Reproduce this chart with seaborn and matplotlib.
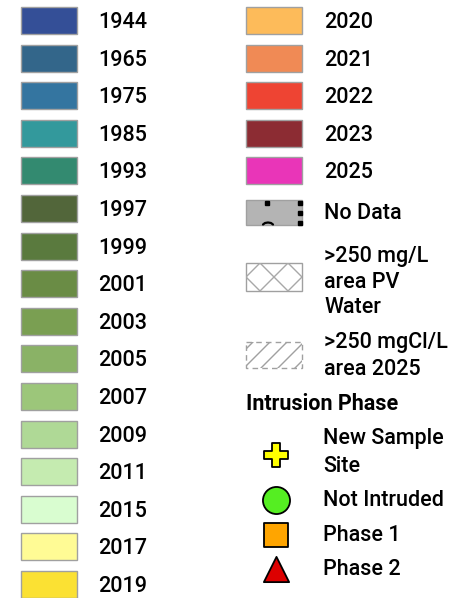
##### Libraries #####
import matplotlib
matplotlib.use('Agg')
import seaborn as sns
from matplotlib import pyplot as plt
from matplotlib.patches import Rectangle

##### Legend data #####
left_years = ['1944', '1965', '1975', '1985', '1993', '1997', '1999', '2001',
              '2003', '2005', '2007', '2009', '2011', '2015', '2017', '2019']
left_colors = ['#344f97', '#33668a', '#3475a0', '#33999c', '#338a70', '#52663a',
               '#5a7a3e', '#6a8c45', '#7a9f52', '#8ab266', '#9cc67a', '#afd996',
               '#c5ebb0', '#d9fdd0', '#fffb95', '#fbe133']
right_years = ['2020', '2021', '2022', '2023', '2025']
right_colors = ['#fdbb5a', '#f08a55', '#ee4433', '#8c2c33', '#e935b8']
nodata_label = 'No Data'
pv_label = ['>250 mg/L', 'area PV', 'Water']
cl_label = ['>250 mgCl/L', 'area 2025']
phase_title = 'Intrusion Phase'
phase_labels = [['New Sample', 'Site'], ['Not Intruded'], ['Phase 1'], ['Phase 2']]
phase_markers = ['P', 'o', 's', '^']
phase_colors = ['#ffff00', '#55ee22', '#ffa500', '#dd0000']

##### Figure #####
sns.set_theme(style='white')
plt.rcParams['font.family'] = ['Roboto', 'DejaVu Sans']
plt.rcParams['text.color'] = 'black'

fig = plt.figure(figsize=(4.74, 5.98), dpi=100)
ax = fig.add_axes([0, 0, 1, 1])
ax.set_xlim(0, 474)
ax.set_ylim(598, 0)
ax.axis('off')

fs = 15.5
fw = 'medium'
step = 37.6
sw_w, sw_h = 56, 27
edge = '#a0a0a0'

# year swatches
def draw_column(years, colors, x_sw, x_txt, y0):
    for i, (yr, col) in enumerate(zip(years, colors)):
        yc = y0 + i * step
        ax.add_patch(Rectangle((x_sw, yc - sw_h / 2), sw_w, sw_h,
                               facecolor=col, edgecolor=edge, lw=1))
        ax.text(x_txt, yc + 7.5, yr, fontsize=fs, fontweight=fw, va='baseline')

draw_column(left_years, left_colors, 21, 98, 20.5)
draw_column(right_years, right_colors, 246, 324, 20.5)

# no data swatch
yc = 212.5
ax.add_patch(Rectangle((246, yc - 12.5), 56, 25, facecolor='#b4b4b4', edgecolor=edge, lw=1))
ax.plot([267, 300, 300, 300], [203, 203, 213, 223], 's', color='black', ms=2.2)
ax.plot([263, 265, 268, 271, 273], [224.5, 223, 222.5, 223, 224.5], color='black', lw=1.6)
ax.text(324, yc + 6.5, nodata_label, fontsize=fs, fontweight=fw, va='baseline')

# hatch lines clipped to a patch
def hatch_lines(patch, xs, yc, half, slopes, color):
    for x0 in xs:
        for s in slopes:
            ln, = ax.plot([x0 - half, x0 + half], [yc + half * s, yc - half * s],
                          color=color, lw=1)
            ln.set_clip_path(patch)

# PV water swatch (diamond crosshatch)
pv = Rectangle((246, 263), 56, 28, facecolor='white', edgecolor=edge, lw=1)
ax.add_patch(pv)
hatch_lines(pv, [246 + 28 * k for k in range(-2, 5)], 277, 30, (1, -1), '#a8a8a8')
for line, base in zip(pv_label, [262, 288, 313]):
    ax.text(324, base, line, fontsize=fs, fontweight=fw, va='baseline')

# chloride 2025 swatch (dashed border + diagonal lines)
cl = Rectangle((246, 342), 56, 26, facecolor='white', edgecolor='#a0a0a0',
               lw=1, ls=(0, (4, 3)))
ax.add_patch(cl)
hatch_lines(cl, [240 + 17 * k for k in range(0, 6)], 355, 30, (1,), '#a0a0a0')
for line, base in zip(cl_label, [348, 375]):
    ax.text(324, base, line, fontsize=fs, fontweight=fw, va='baseline')

# intrusion phase
ax.text(246, 410, phase_title, fontsize=fs, fontweight='bold', va='baseline')
marker_y = [455, 500, 535, 569]
marker_size = [300, 380, 300, 330]
text_base = [[444, 472], [506], [541], [575]]
for lab, mk, col, my, ms, tb in zip(phase_labels, phase_markers, phase_colors,
                                     marker_y, marker_size, text_base):
    sns.scatterplot(x=[276.5], y=[my], marker=mk, s=ms, color=col,
                    edgecolor='black', linewidth=1.3, ax=ax, zorder=5, legend=False)
    for line, base in zip(lab, tb):
        ax.text(323, base, line, fontsize=fs, fontweight=fw, va='baseline')

ax.set_xlim(0, 474)
ax.set_ylim(598, 0)
fig.savefig('out.png', dpi=100, facecolor='white')
